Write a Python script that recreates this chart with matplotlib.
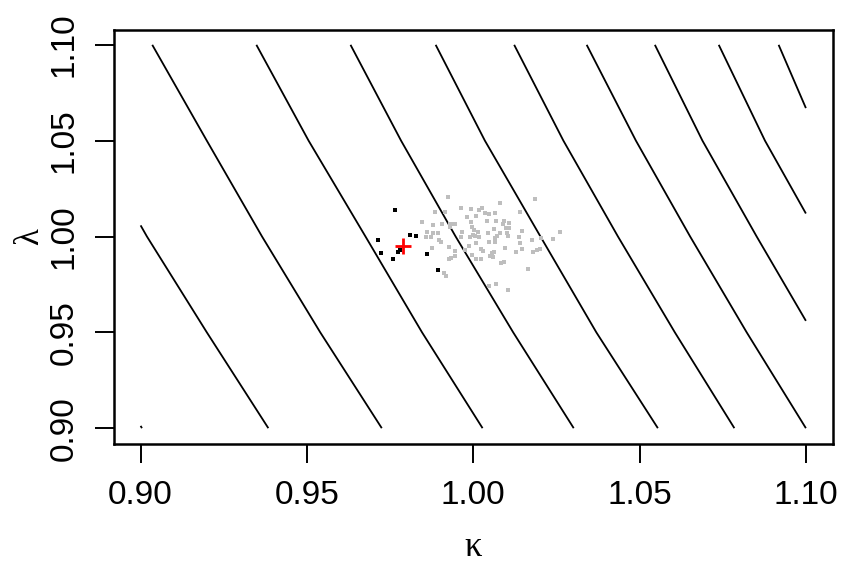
import matplotlib
matplotlib.use("Agg")
import matplotlib.pyplot as plt

# -----------------------------
# Contour lines (kappa, lambda) traced along each level
# -----------------------------
contour_kappa = [
    [0.9000, 0.9004],
    [0.9000, 0.9019, 0.9199, 0.9384],
    [0.9035, 0.9199, 0.9365, 0.9540, 0.9725],
    [0.9348, 0.9505, 0.9676, 0.9846, 1.0028],
    [0.9631, 0.9783, 0.9947, 1.0120, 1.0302],
    [0.9887, 1.0035, 1.0202, 1.0370, 1.0555],
    [1.0123, 1.0271, 1.0435, 1.0606, 1.0785],
    [1.0341, 1.0489, 1.0652, 1.0822, 1.1000],
    [1.0546, 1.0689, 1.0852, 1.1000],
    [1.0738, 1.0877, 1.1000],
    [1.0918, 1.1000],
]
contour_lambda = [
    [0.9012, 0.9000],
    [1.0058, 1.0000, 0.9500, 0.9000],
    [1.1000, 1.0500, 1.0000, 0.9500, 0.9000],
    [1.1000, 1.0500, 1.0000, 0.9500, 0.9000],
    [1.1000, 1.0500, 1.0000, 0.9500, 0.9000],
    [1.1000, 1.0500, 1.0000, 0.9500, 0.9000],
    [1.1000, 1.0500, 1.0000, 0.9500, 0.9000],
    [1.1000, 1.0500, 1.0000, 0.9500, 0.9000],
    [1.1000, 1.0500, 1.0000, 0.9560],
    [1.1000, 1.0500, 1.0120],
    [1.1000, 1.0670],
]

# -----------------------------
# Grey sample cloud
# -----------------------------
grey_kappa = [
    0.9924, 1.0186, 1.0081, 0.9963, 0.9993, 1.0017, 1.0027, 1.0035, 1.0047, 1.0066,
    1.0142, 0.9885, 0.9915, 0.9980, 1.0007, 0.9846, 0.9879, 0.9907, 0.9930, 0.9940,
    0.9946, 0.9994, 0.9995, 1.0042, 1.0069, 1.0092, 1.0090, 1.0108, 0.9930, 1.0062,
    1.0097, 1.0107, 1.0148, 1.0261, 0.9860, 0.9878, 0.9895, 0.9967, 1.0001, 1.0013,
    1.0000, 1.0045, 1.0081, 1.0101, 0.9857, 0.9872, 0.9897, 0.9904, 0.9963, 0.9990,
    1.0006, 1.0017, 1.0065, 1.0071, 1.0103, 1.0138, 1.0177, 1.0205, 1.0240, 1.0009,
    1.0047, 1.0064, 1.0142, 0.9876, 0.9928, 0.9988, 1.0022, 1.0096, 1.0147, 1.0179,
    1.0191, 1.0200, 0.9945, 0.9976, 1.0030, 1.0055, 1.0061, 1.0129, 0.9933, 0.9944,
    0.9927, 0.9997, 1.0008, 1.0022, 1.0049, 1.0058, 1.0083, 1.0091, 1.0165, 0.9912,
    0.9919, 1.0047, 1.0069, 1.0104,
]
grey_lambda = [
    1.0205, 1.0194, 1.0173, 1.0147, 1.0142, 1.0137, 1.0147, 1.0121, 1.0116, 1.0121,
    1.0126, 1.0130, 1.0126, 1.0100, 1.0109, 1.0074, 1.0060, 1.0067, 1.0063, 1.0067,
    1.0063, 1.0077, 1.0051, 1.0079, 1.0079, 1.0083, 1.0067, 1.0069, 1.0048, 1.0037,
    1.0046, 1.0043, 1.0027, 1.0022, 1.0022, 1.0017, 1.0017, 1.0025, 1.0034, 1.0022,
    1.0008, 1.0020, 1.0017, 1.0017, 0.9996, 0.9996, 0.9980, 0.9970, 0.9999, 0.9999,
    1.0004, 0.9999, 0.9990, 1.0003, 1.0003, 0.9999, 0.9980, 0.9994, 0.9989, 0.9964,
    0.9971, 0.9970, 0.9966, 0.9938, 0.9947, 0.9950, 0.9936, 0.9938, 0.9933, 0.9919,
    0.9930, 0.9935, 0.9924, 0.9930, 0.9926, 0.9916, 0.9917, 0.9917, 0.9888, 0.9896,
    0.9883, 0.9905, 0.9884, 0.9883, 0.9898, 0.9893, 0.9863, 0.9867, 0.9829, 0.9808,
    0.9795, 0.9742, 0.9750, 0.9721,
]

# -----------------------------
# Black samples and the estimate
# -----------------------------
black_kappa = [0.9765, 0.9714, 0.9723, 0.9759, 0.9774, 0.9780, 0.9810, 0.9828, 0.9861, 0.9894]
black_lambda = [1.0139, 0.9983, 0.9915, 0.9884, 0.9920, 0.9932, 1.0009, 1.0004, 0.9911, 0.9826]

est_kappa = [0.9790]
est_lambda = [0.9951]

ticks = [0.90, 0.95, 1.00, 1.05, 1.10]
tick_labels = ["0.90", "0.95", "1.00", "1.05", "1.10"]

# -----------------------------
# Figure
# -----------------------------
num_font = ["Liberation Sans Narrow", "Liberation Sans", "DejaVu Sans"]
greek_font = ["Liberation Serif", "DejaVu Serif"]

fig = plt.figure(figsize=(8.42, 5.67), dpi=100)
ax = fig.add_axes([114 / 842, 1 - 443.5 / 567, (832.5 - 114) / 842, (443.5 - 29.5) / 567])

for kx, ly in zip(contour_kappa, contour_lambda):
    ax.plot(kx, ly, color="black", lw=1.3, solid_capstyle="butt",
            solid_joinstyle="round", zorder=2)

ax.plot(grey_kappa, grey_lambda, ls="none", marker="s", ms=2.3, mew=0,
        color="#bebebe", zorder=3)
ax.plot(black_kappa, black_lambda, ls="none", marker="s", ms=2.5, mew=0,
        color="black", zorder=4)
ax.plot(est_kappa, est_lambda, ls="none", marker="+", ms=11.5, mew=2.0,
        color="#ff0000", zorder=5)

ax.set_xlim(0.892, 1.108)
ax.set_ylim(0.892, 1.108)

ax.set_xticks(ticks)
ax.set_yticks(ticks)
ax.set_xticklabels(tick_labels, fontfamily=num_font, fontsize=24)
ax.set_yticklabels(tick_labels, fontfamily=num_font, fontsize=24,
                   rotation=90, va="center")
ax.tick_params(axis="x", direction="out", length=13.5, width=1.4, pad=13)
ax.tick_params(axis="y", direction="out", length=13.5, width=1.4, pad=11)

for side in ["left", "right", "top", "bottom"]:
    ax.spines[side].set_linewidth(1.8)

ax.set_xlabel("κ", fontfamily=greek_font, fontsize=25, labelpad=14)
ax.set_ylabel("λ", fontfamily=greek_font, fontsize=25, labelpad=2)

fig.savefig("out.png", dpi=100)
